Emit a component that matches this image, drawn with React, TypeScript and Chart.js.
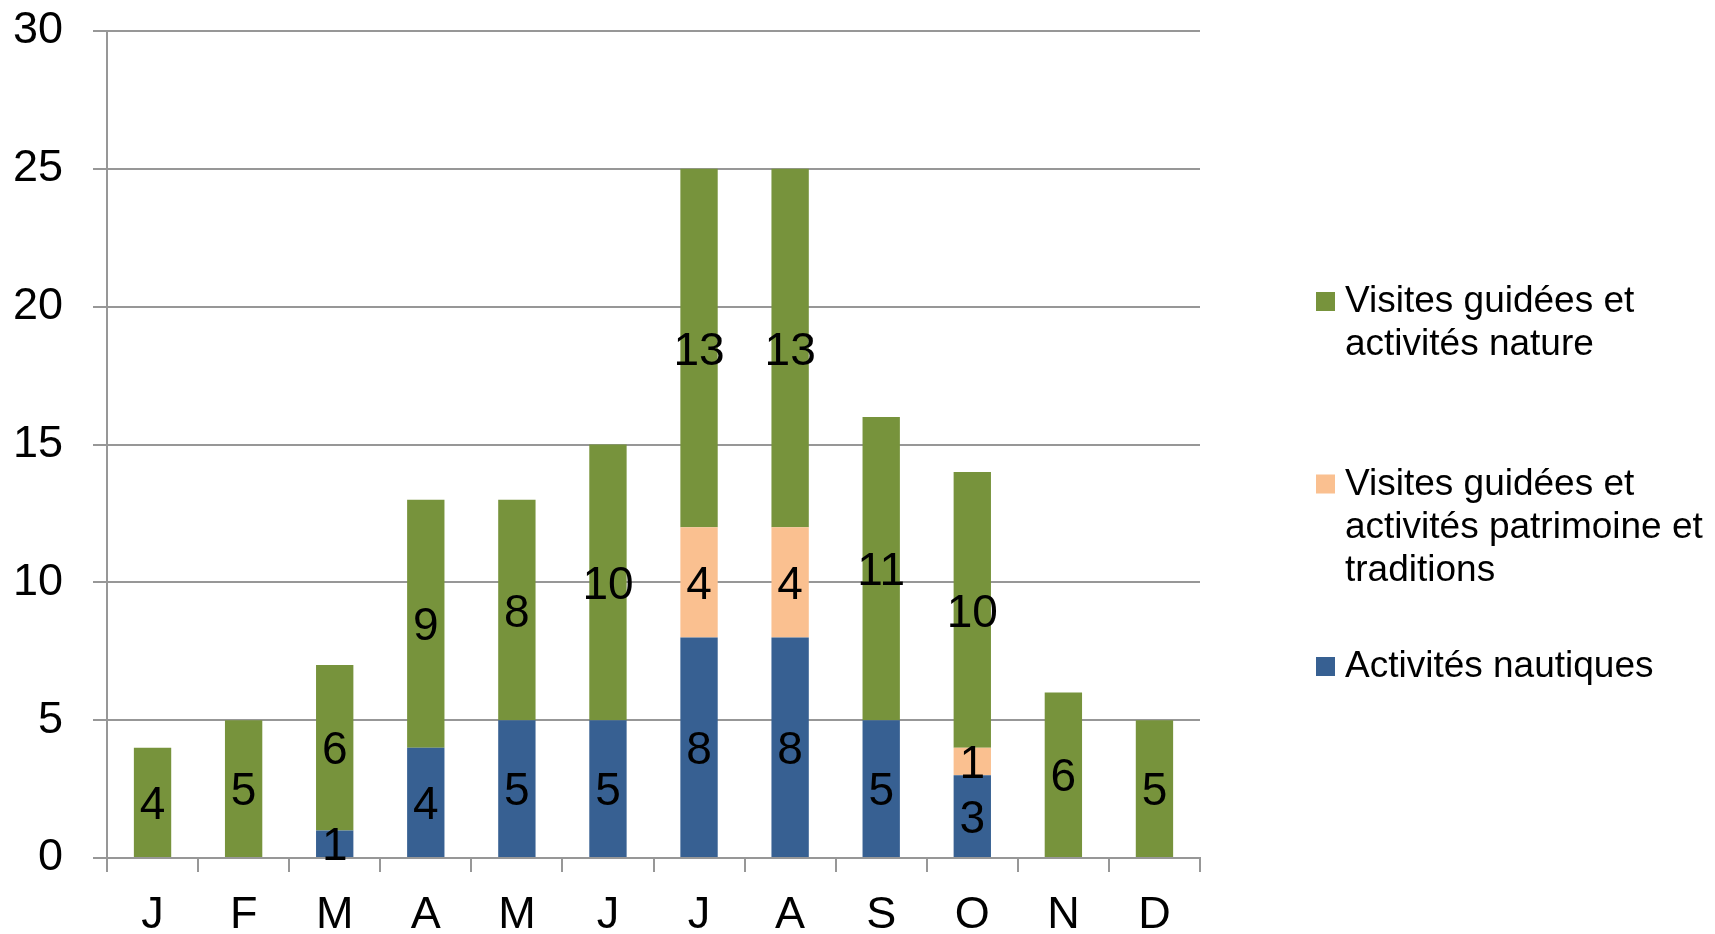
import React, { useEffect, useRef } from "react";
import { Chart, registerables } from "chart.js";

Chart.register(...registerables);

const FONT = '"Liberation Sans", Arial, Helvetica, sans-serif';

const months = ["J", "F", "M", "A", "M", "J", "J", "A", "S", "O", "N", "D"];
const nautiques = [0, 0, 1, 4, 5, 5, 8, 8, 5, 3, 0, 0];
const patrimoine = [0, 0, 0, 0, 0, 0, 4, 4, 0, 1, 0, 0];
const nature = [4, 5, 6, 9, 8, 10, 13, 13, 11, 10, 6, 5];
const yTicks = [0, 5, 10, 15, 20, 25, 30];

const nameNautiques = "Activités nautiques";
const namePatrimoine = "Visites guidées et activités patrimoine et traditions";
const nameNature = "Visites guidées et activités nature";

const colorNautiques = "#376092";
const colorPatrimoine = "#FAC090";
const colorNature = "#77933C";

const GRID = "#979797";

function wrapText(ctx: CanvasRenderingContext2D, text: string, maxWidth: number): string[] {
  const words = text.split(" ");
  const lines: string[] = [];
  let cur = "";
  for (const w of words) {
    const test = cur ? cur + " " + w : w;
    if (ctx.measureText(test).width > maxWidth && cur) {
      lines.push(cur);
      cur = w;
    } else {
      cur = test;
    }
  }
  if (cur) lines.push(cur);
  return lines;
}

const valueLabels = {
  id: "valueLabels",
  afterDatasetsDraw(chart: any) {
    const ctx = chart.ctx as CanvasRenderingContext2D;
    ctx.save();
    ctx.font = `46px ${FONT}`;
    ctx.fillStyle = "#000";
    ctx.textAlign = "center";
    ctx.textBaseline = "middle";
    chart.data.datasets.forEach((ds: any, di: number) => {
      const meta = chart.getDatasetMeta(di);
      meta.data.forEach((bar: any, i: number) => {
        const v = ds.data[i];
        if (!v) return;
        const p = bar.getProps(["x", "y", "base"], true);
        ctx.fillText(String(v), p.x, (p.y + p.base) / 2 + 4);
      });
    });
    ctx.restore();
  },
};

const sideLegend = {
  id: "sideLegend",
  afterDraw(chart: any) {
    const ctx = chart.ctx as CanvasRenderingContext2D;
    ctx.save();
    ctx.font = `37px ${FONT}`;
    ctx.textBaseline = "alphabetic";
    ctx.textAlign = "left";
    const order = [2, 1, 0];
    order.forEach((di, k) => {
      const ds = chart.data.datasets[di];
      const base = 312 + k * 182.5;
      ctx.fillStyle = ds.backgroundColor;
      ctx.fillRect(1316, base - 20, 19, 19);
      ctx.fillStyle = "#000";
      const lines = wrapText(ctx, ds.label, 368);
      lines.forEach((ln, j) => ctx.fillText(ln, 1345, base + j * 43));
    });
    ctx.restore();
  },
};

export default function App() {
  const ref = useRef<HTMLCanvasElement | null>(null);

  useEffect(() => {
    if (!ref.current) return;
    const chart = new Chart(ref.current, {
      type: "bar",
      data: {
        labels: months,
        datasets: [
          { label: nameNautiques, data: nautiques, backgroundColor: colorNautiques },
          { label: namePatrimoine, data: patrimoine, backgroundColor: colorPatrimoine },
          { label: nameNature, data: nature, backgroundColor: colorNature },
        ],
      },
      options: {
        animation: false,
        responsive: true,
        maintainAspectRatio: false,
        devicePixelRatio: 1,
        layout: { padding: { left: 0, right: 515, top: 31, bottom: 0 } },
        datasets: {
          bar: { categoryPercentage: 1, barPercentage: 0.41 },
        } as any,
        plugins: {
          legend: { display: false },
          tooltip: { enabled: false },
          title: { display: false },
        },
        scales: {
          x: {
            stacked: true,
            offset: true,
            grid: {
              display: true,
              offset: true,
              drawOnChartArea: false,
              drawTicks: true,
              tickLength: 14,
              color: GRID,
              lineWidth: 2,
            },
            border: { display: true, color: GRID, width: 2 },
            ticks: {
              color: "#000",
              font: { family: FONT, size: 45 },
              padding: 17,
              maxRotation: 0,
              autoSkip: false,
            },
            afterFit: (scale: any) => {
              scale.height = 76;
              scale.paddingLeft = 0;
              scale.paddingRight = 0;
            },
          },
          y: {
            stacked: true,
            min: 0,
            max: 30,
            afterBuildTicks: (scale: any) => {
              scale.ticks = yTicks.map((v) => ({ value: v }));
            },
            grid: {
              display: true,
              drawOnChartArea: true,
              drawTicks: true,
              tickLength: 14,
              color: GRID,
              lineWidth: 2,
            },
            border: { display: true, color: GRID, width: 2 },
            ticks: {
              color: "#000",
              font: { family: FONT, size: 45 },
              padding: 30,
            },
            afterFit: (scale: any) => {
              scale.width = 107;
              scale.paddingTop = 0;
              scale.paddingBottom = 0;
            },
          },
        },
      },
      plugins: [valueLabels, sideLegend],
    });
    return () => chart.destroy();
  }, []);

  return (
    <div
      style={{
        position: "fixed",
        left: 0,
        top: 0,
        width: "1715px",
        height: "934px",
        background: "#fff",
      }}
    >
      <canvas ref={ref} />
    </div>
  );
}
